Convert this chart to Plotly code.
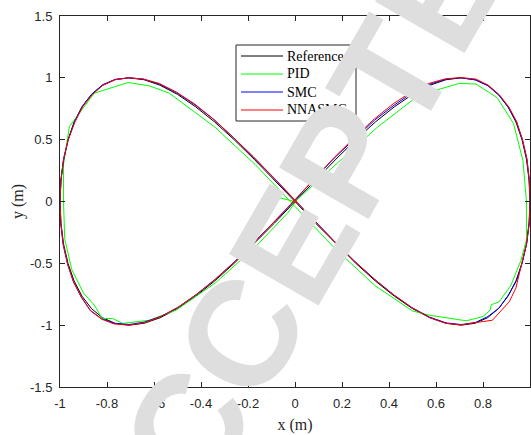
import plotly.graph_objects as go

# ---------------- data ----------------
ref_x = [0, .087, .174, .259, .342, .423, .5, .574, .643, .707, .766, .819, .866, .906, .940, .966, .985, .996, 1,
         .996, .985, .966, .940, .906, .866, .819, .766, .707, .643, .574, .5, .423, .342, .259, .174, .087, 0,
         -.087, -.174, -.259, -.342, -.423, -.5, -.574, -.643, -.707, -.766, -.819, -.866, -.906, -.940, -.966, -.985, -.996, -1,
         -.996, -.985, -.966, -.940, -.906, -.866, -.819, -.766, -.707, -.643, -.574, -.5, -.423, -.342, -.259, -.174, -.087, 0]
ref_y = [0, .174, .342, .5, .643, .766, .866, .940, .985, 1, .985, .940, .866, .766, .643, .5, .342, .174, 0,
         -.174, -.342, -.5, -.643, -.766, -.866, -.940, -.985, -1, -.985, -.940, -.866, -.766, -.643, -.5, -.342, -.174, 0,
         .174, .342, .5, .643, .766, .866, .940, .985, 1, .985, .940, .866, .766, .643, .5, .342, .174, 0,
         -.174, -.342, -.5, -.643, -.766, -.866, -.940, -.985, -1, -.985, -.940, -.866, -.766, -.643, -.5, -.342, -.174, 0]

pid_x = [-0.11, 0.0, 0.18, 0.35, 0.50, 0.60, 0.70, 0.77, 0.86, 0.93, 0.97, 0.985,
         0.985, 0.962, 0.919, 0.869, 0.835, 0.83, 0.80, 0.73, 0.57, 0.50, 0.34, 0.17, 0.0,
         -0.17, -0.34, -0.50, -0.535, -0.62, -0.71, -0.854, -0.96, -0.985, -0.985,
         -0.98, -0.95, -0.90, -0.854, -0.82, -0.776, -0.733, -0.62, -0.506, -0.40, -0.34, -0.17, -0.03, 0.0]
pid_y = [0.05, 0.0, 0.31, 0.60, 0.82, 0.90, 0.955, 0.95, 0.84, 0.63, 0.33, 0.0,
         -0.31, -0.474, -0.676, -0.811, -0.835, -0.88, -0.93, -0.965, -0.919, -0.885, -0.68, -0.38, -0.04,
         0.30, 0.60, 0.83, 0.876, 0.935, 0.962, 0.876, 0.606, 0.30, 0.0,
         -0.30, -0.55, -0.74, -0.838, -0.946, -0.946, -0.986, -0.96, -0.878, -0.74, -0.66, -0.37, -0.09, -0.01]

smc_x = [0, .086, .172, .257, .340, .421, .498, .573, .642, .707, .768, .822, .868, .909, .943, .968, .987, .997, 1,
         .997, .986, .967, .943, .909, .868, .821, .768, .708, .644, .573, .497, .420, .338, .255, .171, .085, 0,
         -.089, -.177, -.262, -.345, -.426, -.503, -.577, -.645, -.707, -.765, -.818, -.864, -.905, -.938, -.965, -.984, -.996, -1,
         -.997, -.987, -.968, -.943, -.910, -.871, -.823, -.769, -.706, -.641, -.571, -.497, -.420, -.339, -.256, -.171, -.085, 0]
smc_y = [.01, .19, .36, .515, .66, .778, .878, .948, .99, 1.0, .983, .935, .858, .76, .642, .498, .34, .172, 0,
         -.173, -.34, -.495, -.638, -.755, -.862, -.93, -.978, -.995, -.982, -.935, -.858, -.755, -.628, -.485, -.328, -.158, .01,
         .19, .36, .516, .662, .782, .878, .95, .99, 1.0, .988, .945, .87, .77, .645, .5, .338, .172, 0,
         -.176, -.345, -.505, -.648, -.772, -.88, -.948, -.985, -.995, -.975, -.93, -.855, -.752, -.628, -.485, -.326, -.158, .01]

nn_x = [0, .01, -.01, 0,
        .085, .170, .254, .338, .418, .495, .570, .640, .706, .770, .823, .870, .910, .943, .968, .987, .997, 1,
        .997, .985, .965, .940, .912, .869, .840, .784, .707, .642, .572, .495, .418, .336, .252, .168, .084, 0,
        -.089, -.178, -.263, -.348, -.428, -.505, -.578, -.646, -.707, -.765, -.817, -.862, -.904, -.937, -.965, -.985, -.996, -1,
        -.996, -.986, -.967, -.942, -.908, -.870, -.822, -.770, -.707, -.640, -.570, -.495, -.418, -.336, -.252, -.168, -.084, 0]
nn_y = [.02, -.01, 0, .015,
        .19, .362, .52, .668, .79, .885, .955, .992, 1.002, .99, .94, .862, .765, .645, .5, .345, .175, 0,
        -.174, -.345, -.50, -.70, -.81, -.905, -.96, -.975, -.998, -.985, -.938, -.855, -.752, -.625, -.482, -.325, -.155, .015,
        .19, .362, .52, .668, .79, .885, .955, .99, 1.0, .986, .94, .866, .765, .64, .5, .34, .172, 0,
        -.178, -.35, -.51, -.652, -.775, -.885, -.952, -.99, -1.0, -.98, -.93, -.852, -.75, -.624, -.48, -.322, -.155, .015]

series_names = ["Reference", "PID", "SMC", "NNASMC"]
series_colors = ["#000000", "#00ff00", "#0000ff", "#ff0000"]

x_tickvals = [-1, -0.8, -0.6, -0.4, -0.2, 0, 0.2, 0.4, 0.6, 0.8, 1]
x_ticktext = ["-1", "-0.8", "-0.6", "-0.4", "-0.2", "0", "0.2", "0.4", "0.6", "0.8", "1"]
y_tickvals = [-1.5, -1, -0.5, 0, 0.5, 1, 1.5]
y_ticktext = ["-1.5", "-1", "-0.5", "0", "0.5", "1", "1.5"]

watermark_text = "ACCEPTED"

# ---------------- layout constants (pixels) ----------------
W, H = 531, 435
ML, MR, MT, MB = 60, 1, 16, 48
PW, PH = W - ML - MR, H - MT - MB


def px_to_paper(px, py):
    return (px - ML) / PW, (H - MB - py) / PH


LEG_BOX = (236, 45, 356, 121)       # left, top, right, bottom
LEG_LINE_X = (241, 283)
LEG_TEXT_X = 285
LEG_ROW_Y0, LEG_ROW_DY = 56, 18

# ---------------- figure ----------------
xs = [ref_x, pid_x, smc_x, nn_x]
ys = [ref_y, pid_y, smc_y, nn_y]

fig = go.Figure()
for name, color, x, y in zip(series_names, series_colors, xs, ys):
    fig.add_trace(go.Scatter(x=x, y=y, mode="lines", name=name,
                             line=dict(color=color, width=1), showlegend=False))

axis_common = dict(
    showgrid=False, zeroline=False, showline=True, linecolor="#262626", linewidth=1,
    mirror="ticks", ticks="inside", ticklen=5, tickwidth=1, tickcolor="#262626",
    tickfont=dict(family="Liberation Sans, Arial", size=13, color="#262626"),
)

fig.update_xaxes(range=[-1, 1], tickvals=x_tickvals, ticktext=x_ticktext,
                 title=dict(text="x (m)", font=dict(family="Liberation Serif, Times New Roman", size=16, color="#262626"),
                            standoff=9),
                 ticklabelstandoff=4, **axis_common)
fig.update_yaxes(range=[-1.5, 1.5], tickvals=y_tickvals, ticktext=y_ticktext,
                 title=dict(text="y (m)", font=dict(family="Liberation Serif, Times New Roman", size=16, color="#262626"),
                            standoff=2),
                 ticklabelstandoff=4, **axis_common)

fig.update_layout(
    width=W, height=H,
    margin=dict(l=ML, r=MR, t=MT, b=MB),
    plot_bgcolor="white", paper_bgcolor="white",
    showlegend=False,
)

# legend (drawn as layout shapes + text)
bx0, by1 = px_to_paper(LEG_BOX[0], LEG_BOX[1])
bx1, by0 = px_to_paper(LEG_BOX[2], LEG_BOX[3])
fig.add_shape(type="rect", xref="paper", yref="paper", x0=bx0, x1=bx1, y0=by0, y1=by1,
              line=dict(color="#262626", width=1), fillcolor="white", layer="above")
for i, (name, color) in enumerate(zip(series_names, series_colors)):
    row_y = LEG_ROW_Y0 + i * LEG_ROW_DY
    lx0, ly = px_to_paper(LEG_LINE_X[0], row_y)
    lx1, _ = px_to_paper(LEG_LINE_X[1], row_y)
    fig.add_shape(type="line", xref="paper", yref="paper", x0=lx0, x1=lx1, y0=ly, y1=ly,
                  line=dict(color=color, width=1), layer="above")
    tx, _ = px_to_paper(LEG_TEXT_X, row_y)
    fig.add_annotation(text=name, xref="paper", yref="paper", x=tx, y=ly,
                       xanchor="left", yanchor="middle", showarrow=False,
                       font=dict(family="Liberation Serif, Times New Roman", size=14, color="#000000"))

# watermark
wx, wy = px_to_paper(312, 213)
fig.add_annotation(text="<b>" + watermark_text + "</b>", xref="paper", yref="paper", x=wx, y=wy,
                   xanchor="center", yanchor="middle", showarrow=False, textangle=-60,
                   font=dict(family="Liberation Sans, Arial", size=150, color="#dedede"))

fig.write_html("out.html")
